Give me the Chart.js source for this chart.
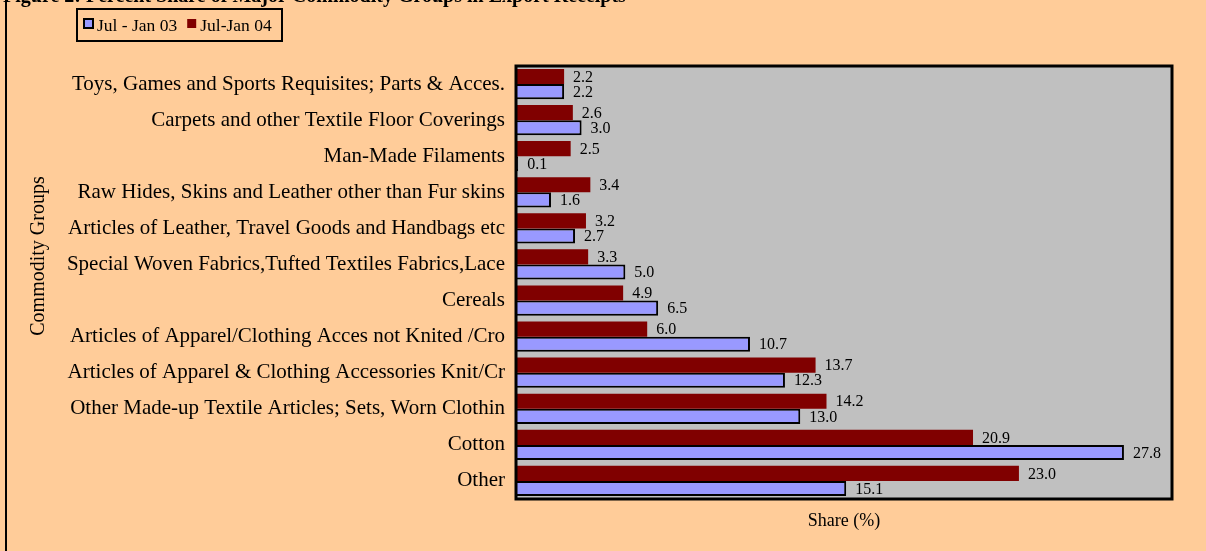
<!DOCTYPE html>
<html>
<head>
<meta charset="utf-8">
<script src="https://cdn.jsdelivr.net/npm/chart.js@4/dist/chart.umd.min.js"></script>
<style>
html,body{margin:0;padding:0;background:#FFCC99;}
#wrap{width:1206px;height:551px;position:relative;}
</style>
</head>
<body>
<div id="wrap"><canvas id="c" width="1206" height="551"></canvas></div>
<script>
const categories = [
  "Toys, Games and Sports Requisites; Parts & Acces.",
  "Carpets and other Textile Floor Coverings",
  "Man-Made Filaments",
  "Raw Hides, Skins and Leather other than Fur skins",
  "Articles of Leather, Travel Goods and Handbags etc",
  "Special Woven Fabrics,Tufted Textiles Fabrics,Lace",
  "Cereals",
  "Articles of Apparel/Clothing Acces not Knited /Cro",
  "Articles of Apparel & Clothing Accessories Knit/Cr",
  "Other Made-up Textile Articles; Sets, Worn Clothin",
  "Cotton",
  "Other"
];
const seriesJul03Label = "Jul - Jan 03";
const seriesJul04Label = "Jul-Jan 04";
const jul03 = [2.2, 3.0, 0.1, 1.6, 2.7, 5.0, 6.5, 10.7, 12.3, 13.0, 27.8, 15.1];
const jul04 = [2.2, 2.6, 2.5, 3.4, 3.2, 3.3, 4.9, 6.0, 13.7, 14.2, 20.9, 23.0];
const titleText = "Figure 2: Percent Share of Major Commodity Groups in Export Receipts";
const xTitle = "Share (%)";
const yTitle = "Commodity Groups";

const SERIF = "'Liberation Serif', 'Times New Roman', serif";

const decor = {
  id: 'decor',
  beforeDraw(chart) {
    const ctx = chart.ctx, a = chart.chartArea;
    ctx.save();
    ctx.fillStyle = '#FFCC99';
    ctx.fillRect(0, 0, chart.width, chart.height);
    ctx.fillStyle = '#C0C0C0';
    ctx.fillRect(a.left, a.top, a.right - a.left, a.bottom - a.top);
    // left outer frame line
    ctx.fillStyle = '#000';
    ctx.fillRect(5, 0, 2, chart.height);
    // title (clipped at top)
    ctx.font = "bold 20px " + SERIF;
    ctx.fillStyle = '#000';
    ctx.textBaseline = 'alphabetic';
    ctx.textAlign = 'left';
    ctx.fillText(titleText, 3, 2);
    // y axis title
    ctx.translate(39, 256);
    ctx.rotate(-Math.PI / 2);
    ctx.font = "20px " + SERIF;
    ctx.textAlign = 'center';
    ctx.textBaseline = 'middle';
    ctx.fillText(yTitle, 0, 0);
    ctx.restore();
  },
  afterDatasetsDraw(chart) {
    const ctx = chart.ctx, a = chart.chartArea;
    ctx.save();
    // plot frame
    ctx.strokeStyle = '#000';
    ctx.lineWidth = 3;
    ctx.strokeRect(a.left, a.top, a.right - a.left, a.bottom - a.top);
    // value labels
    ctx.font = "16px " + SERIF;
    ctx.fillStyle = '#000';
    ctx.textAlign = 'left';
    ctx.textBaseline = 'middle';
    chart.data.datasets.forEach((ds, di) => {
      const meta = chart.getDatasetMeta(di);
      meta.data.forEach((el, i) => {
        ctx.fillText(ds.data[i].toFixed(1), el.x + 9, el.y + 1);
      });
    });
    // legend
    const ds = chart.data.datasets;
    const items = [ds[1], ds[0]];
    ctx.lineWidth = 2;
    ctx.strokeStyle = '#000';
    ctx.strokeRect(77, 9, 205, 32);
    ctx.font = "17.5px " + SERIF;
    ctx.textBaseline = 'middle';
    let x = 84;
    items.forEach((it, k) => {
      ctx.fillStyle = it.backgroundColor;
      ctx.fillRect(x, 19, 9, 9);
      if (k === 0) { ctx.lineWidth = 2; ctx.strokeRect(x, 19, 9, 9); }
      ctx.fillStyle = '#000';
      ctx.fillText(it.label, x + 13, 26);
      x += 13 + ctx.measureText(it.label).width + 10;
    });
    ctx.restore();
  }
};

new Chart(document.getElementById('c'), {
  type: 'bar',
  data: {
    labels: categories,
    datasets: [
      { label: seriesJul04Label, data: jul04, backgroundColor: '#800000', borderWidth: 0 },
      { label: seriesJul03Label, data: jul03, backgroundColor: '#9999FF', borderColor: '#000', borderWidth: 2 }
    ]
  },
  options: {
    indexAxis: 'y',
    responsive: false,
    animation: false,
    devicePixelRatio: 1,
    layout: { padding: { top: 66, right: 34, bottom: 0, left: 0 } },
    plugins: { legend: { display: false }, tooltip: { enabled: false } },
    datasets: { bar: { categoryPercentage: 0.84, barPercentage: 1.0 } },
    scales: {
      x: {
        min: 0, max: 30,
        grid: { display: false, drawTicks: false },
        border: { display: false },
        ticks: { display: false },
        title: { display: true, text: xTitle, color: '#000', font: { family: SERIF, size: 18 }, padding: { top: 0, bottom: 19 } },
        afterFit(s) { s.height = 52; }
      },
      y: {
        grid: { display: false, drawTicks: false },
        border: { display: false },
        ticks: { color: '#000', font: { family: SERIF, size: 21 }, padding: 11, autoSkip: false },
        title: { display: false, text: yTitle },
        afterFit(s) { s.width = 516; }
      }
    }
  },
  plugins: [decor]
});
</script>
</body>
</html>
